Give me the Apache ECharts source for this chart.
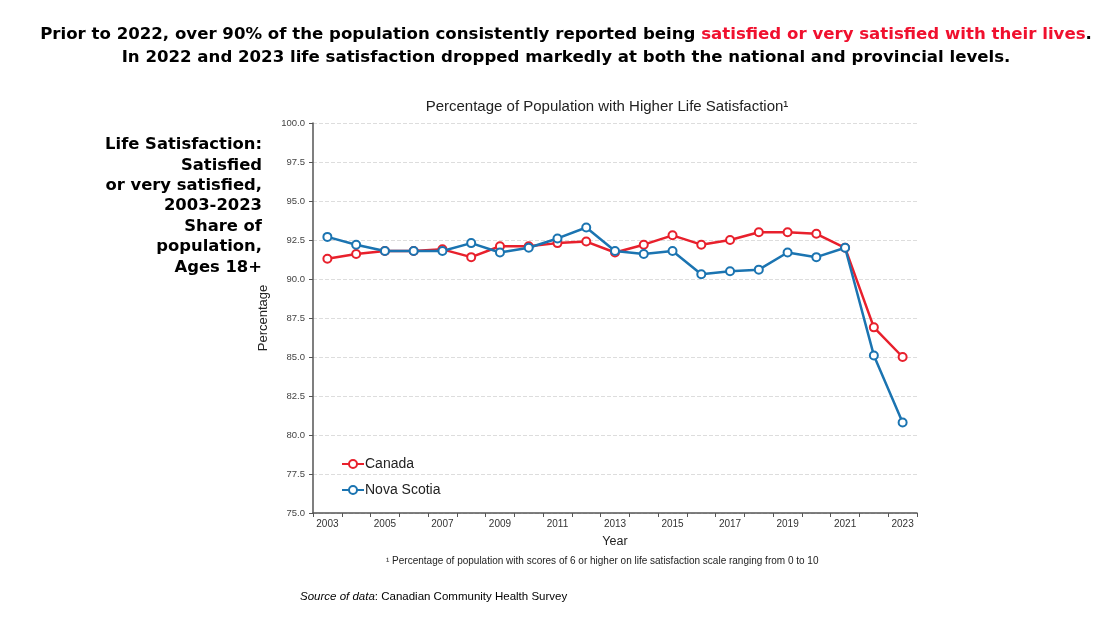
<!DOCTYPE html>
<html>
<head>
<meta charset="utf-8">
<script src="https://cdn.jsdelivr.net/npm/echarts@6/dist/echarts.min.js"></script>
<style>
  html, body { margin: 0; padding: 0; background: #fff; }
  #chart { width: 1116px; height: 627px; }
</style>
</head>
<body>
<div id="chart"></div>
<script>
// years on the x axis
var years = ['2003','2004','2005','2006','2007','2008','2009','2010','2011','2012','2013',
             '2014','2015','2016','2017','2018','2019','2020','2021','2022','2023'];
// share satisfied or very satisfied (%)
var canada     = [91.3, 91.6, 91.8, 91.8, 91.9, 91.4, 92.1, 92.1, 92.3, 92.4, 91.7,
                  92.2, 92.8, 92.2, 92.5, 93.0, 93.0, 92.9, 92.0, 86.9, 85.0];
var novaScotia = [92.7, 92.2, 91.8, 91.8, 91.8, 92.3, 91.7, 92.0, 92.6, 93.3, 91.8,
                  91.6, 91.8, 90.3, 90.5, 90.6, 91.7, 91.4, 92.0, 85.1, 80.8];

var RED = '#e8202c', BLUE = '#1b74b1';
var headFont = '"DejaVu Sans", sans-serif';
var chartFont = '"Liberation Sans", Arial, sans-serif';

var chart = echarts.init(document.getElementById('chart'));

var option = {
  backgroundColor: '#fff',
  animation: false,
  textStyle: { fontFamily: chartFont },
  title: [{
    // headline
    left: 561, top: 18, textAlign: 'center',
    text: '{b|Prior to 2022, over 90% of the population consistently reported being }{r|satisfied or very satisfied with their lives}{b|.}\n{b|In 2022 and 2023 life satisfaction dropped markedly at both the national and provincial levels.}',
    textStyle: {
      rich: {
        b: { fontFamily: headFont, fontWeight: 'bold', fontSize: 16.6, color: '#000', lineHeight: 23 },
        r: { fontFamily: headFont, fontWeight: 'bold', fontSize: 16.6, color: '#f0102e', lineHeight: 23 }
      }
    }
  }, {
    left: 602, top: 94, textAlign: 'center',
    text: 'Percentage of Population with Higher Life Satisfaction\u00b9',
    textStyle: { fontFamily: chartFont, fontWeight: 'normal', fontSize: 15, color: '#222' }
  }],
  graphic: [{
    type: 'text', left: 'auto', right: 854, top: 137,
    style: {
      text: '{r|Life Satisfaction}{b|:}\n{b|Satisfied}\n{b|or very satisfied,}\n{b|2003-2023}\n{b|Share of}\n{b|population,}\n{b|Ages 18+}',
      align: 'right',
      rich: {
        r: { fontFamily: headFont, fontWeight: 'bold', fontSize: 16.4, color: '#f0102e', lineHeight: 20.4, align: 'right' },
        b: { fontFamily: headFont, fontWeight: 'bold', fontSize: 16.4, color: '#000', lineHeight: 20.4, align: 'right' }
      }
    }
  }, {
    type: 'text', left: 386, top: 556,
    style: {
      text: '\u00b9 Percentage of population with scores of 6 or higher on life satisfaction scale ranging from 0 to 10',
      fontFamily: chartFont, fontSize: 10, fill: '#222'
    }
  }, {
    type: 'text', left: 300, top: 591,
    style: {
      text: '{i|Source of data}{n|: Canadian Community Health Survey}',
      rich: {
        i: { fontFamily: chartFont, fontStyle: 'italic', fontSize: 11.5, color: '#222' },
        n: { fontFamily: chartFont, fontSize: 11.5, color: '#222' }
      }
    }
  }],
  legend: {
    orient: 'vertical', left: 336, top: 452, itemGap: 12,
    itemWidth: 22, itemHeight: 10,
    textStyle: { fontSize: 14, color: '#222', fontFamily: chartFont, padding: [0, 0, 0, -4] },
    data: ['Canada', 'Nova Scotia']
  },
  grid: { left: 313, right: 199, top: 123, bottom: 114 },
  xAxis: {
    type: 'category', data: years, boundaryGap: true,
    name: 'Year', nameLocation: 'middle', nameGap: 22,
    nameTextStyle: { fontSize: 12.5, color: '#222', fontFamily: chartFont },
    axisLine: { lineStyle: { color: '#555', width: 1.5 } },
    axisTick: { show: true, interval: 0, length: 4, lineStyle: { color: '#555' } },
    axisLabel: { interval: 1, fontSize: 10, color: '#333', margin: 6 }
  },
  yAxis: {
    type: 'value', min: 75, max: 100, interval: 2.5,
    name: 'Percentage', nameLocation: 'middle', nameGap: 40, nameRotate: 90,
    nameTextStyle: { fontSize: 13, color: '#222', fontFamily: chartFont },
    axisLine: { show: true, lineStyle: { color: '#555', width: 1.5 } },
    axisTick: { show: true, length: 4, lineStyle: { color: '#555' } },
    axisLabel: { fontSize: 9.5, color: '#444', margin: 8, formatter: function (v) { return v.toFixed(1); } },
    splitLine: { show: true, lineStyle: { color: '#ddd', type: 'dashed' } }
  },
  series: [{
    name: 'Canada', type: 'line', data: canada,
    symbol: 'emptyCircle', symbolSize: 8,
    lineStyle: { width: 2.5, color: RED },
    itemStyle: { color: RED, borderWidth: 1.5 },
    z: 3
  }, {
    name: 'Nova Scotia', type: 'line', data: novaScotia,
    symbol: 'emptyCircle', symbolSize: 8,
    lineStyle: { width: 2.5, color: BLUE },
    itemStyle: { color: BLUE, borderWidth: 1.5 },
    z: 4
  }]
};

chart.setOption(option);
</script>
</body>
</html>
